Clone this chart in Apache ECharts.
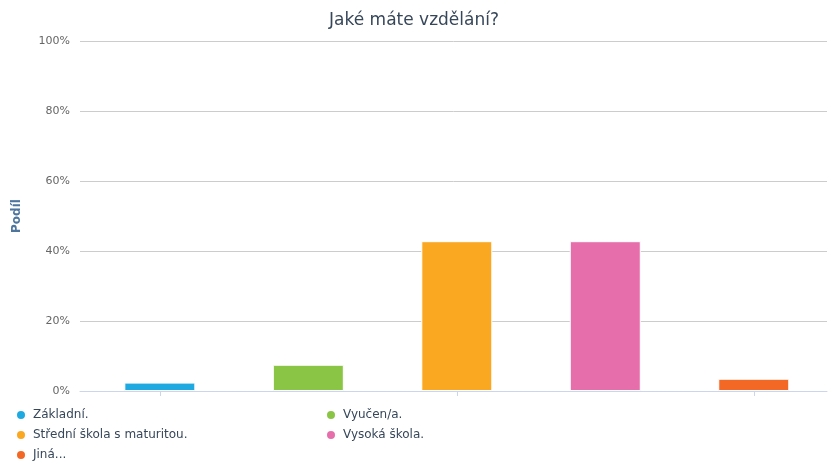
<!DOCTYPE html>
<html>
<head>
<meta charset="utf-8">
<script src="https://cdn.jsdelivr.net/npm/echarts@6/dist/echarts.min.js"></script>
<style>
  html, body { margin: 0; padding: 0; background: #fff; }
  #chart { width: 828px; height: 462px; }
</style>
</head>
<body>
<div id="chart"></div>
<script>
// Survey: highest completed education, share of respondents (%)
const categories = ['Základní.', 'Vyučen/a.', 'Střední škola s maturitou.', 'Vysoká škola.', 'Jiná...'];
const shares = [2.4, 7.5, 42.8, 42.8, 3.5];
const colors = ['#1fa9e1', '#8bc546', '#faa722', '#e66fab', '#f26824'];
const yTicks = [0, 20, 40, 60, 80, 100];

const font = 'DejaVu Sans, sans-serif';

// one series per category so every bar gets its own legend entry
const series = categories.map((name, i) => ({
  name: name,
  type: 'bar',
  xAxisIndex: 1,
  yAxisIndex: 1,
  stack: 'edu',
  barWidth: 71,
  itemStyle: { color: colors[i], borderColor: '#ffffff', borderWidth: 1 },
  data: categories.map((c, j) => (j === i ? shares[i] : '-'))
}));

// legend laid out in two columns: [column, row] for each category
const legendSlots = [[0, 0], [1, 0], [0, 1], [1, 1], [0, 2]];
const legends = categories.map((name, i) => ({
  left: legendSlots[i][0] === 0 ? 10 : 320,
  top: 404 + legendSlots[i][1] * 20,
  itemWidth: 10,
  itemHeight: 10,
  icon: 'circle',
  data: [name],
  textStyle: { fontFamily: font, fontSize: 12, color: '#37475a', padding: [0, 0, 0, 2] }
}));

const chart = echarts.init(document.getElementById('chart'));
chart.setOption({
  animation: false,
  backgroundColor: '#ffffff',
  color: colors,
  title: {
    text: 'Jaké máte vzdělání?',
    left: 'center',
    top: 7,
    textStyle: { fontFamily: font, fontSize: 17, fontWeight: 'normal', color: '#37475a' }
  },
  legend: legends,
  grid: [
    { left: 80, right: 1, top: 41, bottom: 71 },
    { left: 85.6, right: -4.6, top: 41, bottom: 71 }
  ],
  xAxis: [
    {
      gridIndex: 0,
      type: 'category',
      data: [''],
      axisLine: { show: true, lineStyle: { color: '#ccd6eb', width: 1 } },
      axisTick: { show: false },
      axisLabel: { show: false }
    },
    {
      gridIndex: 1,
      type: 'category',
      data: categories,
      axisLine: { show: false },
      axisTick: { show: true, alignWithLabel: true, length: 5, lineStyle: { color: '#ccd6eb' } },
      axisLabel: { show: false }
    }
  ],
  yAxis: [
    {
      gridIndex: 0,
      type: 'value',
      min: yTicks[0],
      max: yTicks[yTicks.length - 1],
      interval: 20,
      name: 'Podíl',
      nameLocation: 'middle',
      nameGap: 57,
      nameTextStyle: { fontFamily: font, fontSize: 12, fontWeight: 'bold', color: '#4d759e' },
      axisLine: { show: false },
      axisTick: { show: false },
      axisLabel: { formatter: '{value}%', margin: 10, fontFamily: font, fontSize: 11, color: '#666666' },
      splitLine: { lineStyle: { color: '#cccccc', width: 1 } }
    },
    {
      gridIndex: 1,
      type: 'value',
      min: yTicks[0],
      max: yTicks[yTicks.length - 1],
      show: false,
      splitLine: { show: false }
    }
  ],
  series: series
});
</script>
</body>
</html>
